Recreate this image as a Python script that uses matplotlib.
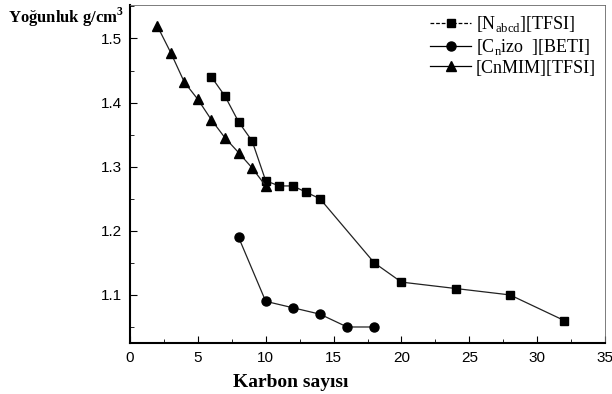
import matplotlib.pyplot as plt
from matplotlib.lines import Line2D
from matplotlib.ticker import MultipleLocator

plt.rcParams['mathtext.fontset'] = 'custom'
plt.rcParams['mathtext.rm'] = 'Liberation Serif'
plt.rcParams['mathtext.bf'] = 'Liberation Serif:bold'

# Karbon sayisi vs yogunluk
x_n = [6, 7, 8, 9, 10, 11, 12, 13, 14, 18, 20, 24, 28, 32]
y_n = [1.44, 1.41, 1.37, 1.34, 1.278, 1.27, 1.27, 1.26, 1.25, 1.15, 1.12, 1.11, 1.10, 1.06]

x_c = [8, 10, 12, 14, 16, 18]
y_c = [1.19, 1.09, 1.08, 1.07, 1.05, 1.05]

x_m = [2, 3, 4, 5, 6, 7, 8, 9, 10]
y_m = [1.52, 1.478, 1.432, 1.405, 1.373, 1.345, 1.322, 1.298, 1.27]

labels = [r'[N$_{\mathrm{abcd}}$][TFSI]', r'[C$_{\mathrm{n}}$izo  ][BETI]', '[CnMIM][TFSI]']

fig = plt.figure(figsize=(6.12, 3.94), dpi=100)
ax = fig.add_axes([0.2124, 0.1294, 0.7762, 0.8576])

ax.plot(x_n, y_n, color='#222222', lw=0.9, marker='s', ms=6, mfc='black', mec='black')
ax.plot(x_c, y_c, color='#222222', lw=0.9, marker='o', ms=6.5, mfc='black', mec='black')
ax.plot(x_m, y_m, color='#222222', lw=0.9, marker='^', ms=7, mfc='black', mec='black')

# legend handles (square series drawn dashed in the key)
handles = [
    Line2D([], [], color='black', lw=0.9, ls=(0, (3, 1.5)), marker='s', ms=6),
    Line2D([], [], color='black', lw=0.9, marker='o', ms=6.5),
    Line2D([], [], color='black', lw=0.9, marker='^', ms=7),
]

ax.set_xlim(0, 35)
ax.set_ylim(1.025, 1.552)
ax.xaxis.set_major_locator(MultipleLocator(5))
ax.xaxis.set_minor_locator(MultipleLocator(2.5))
ax.yaxis.set_minor_locator(MultipleLocator(0.05))
ax.set_yticks([1.1, 1.2, 1.3, 1.4, 1.5])
ax.set_yticklabels(['1.1', '1.2', '1.3', '1.4', '1.5'])
ax.tick_params(which='both', direction='in', top=False, right=False)
ax.tick_params(which='major', length=5, labelsize=11, pad=6)
ax.tick_params(which='minor', length=3)
for lab in ax.get_xticklabels() + ax.get_yticklabels():
    lab.set_fontfamily('Liberation Sans')

for side in ['left', 'bottom']:
    ax.spines[side].set_linewidth(1.5)
for side in ['top', 'right']:
    ax.spines[side].set_linewidth(0.6)
    ax.spines[side].set_color('#666666')

ax.legend(handles, labels, loc='upper right', frameon=False, handlelength=2.3,
          handletextpad=0.25, labelspacing=0.15, borderaxespad=0.1,
          prop={'family': 'Liberation Serif', 'size': 13})

fig.text(0.013, 0.957, r'Yoğunluk g/cm$^{\mathbf{3}}$', fontfamily='Liberation Serif',
         fontweight='bold', fontsize=12, va='center', ha='left')
fig.text(0.475, 0.03, 'Karbon sayısı', fontfamily='Liberation Serif',
         fontweight='bold', fontsize=14, va='center', ha='center')

fig.savefig('out.png', dpi=100)
